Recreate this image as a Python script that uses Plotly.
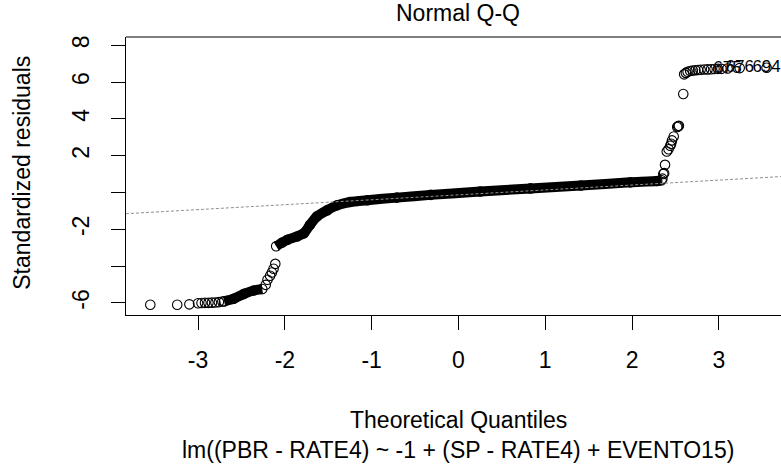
import plotly.graph_objects as go

# ---- data (theoretical quantile, standardized residual) ----
left_x = [-3.55, -3.24, -3.10, -3.00, -2.96, -2.92, -2.88, -2.84, -2.80, -2.76, -2.72]
left_y = [-6.10, -6.10, -6.08, -6.02, -6.01, -6.00, -6.00, -5.99, -5.98, -5.96, -5.93]

bandA_x = [-2.70, -2.59, -2.47, -2.36, -2.26]
bandA_y = [-5.92, -5.78, -5.51, -5.33, -5.25]

rise_x = [-2.22, -2.20, -2.17, -2.15, -2.13, -2.11]
rise_y = [-5.02, -4.74, -4.53, -4.35, -4.15, -3.88]

bandB_x = [-2.10, -2.03, -1.97, -1.86, -1.78, -1.71, -1.63, -1.51, -1.40, -1.25,
           -1.05, -0.71, -0.32, 0.25, 0.83, 1.41, 1.98, 2.29, 2.34]
bandB_y = [-2.92, -2.72, -2.57, -2.39, -2.21, -1.76, -1.30, -0.96, -0.70, -0.52,
           -0.42, -0.28, -0.13, 0.05, 0.22, 0.38, 0.55, 0.62, 0.66]

right_x = [2.35, 2.36, 2.37, 2.38, 2.40, 2.42, 2.44, 2.45, 2.46, 2.48, 2.52, 2.53,
           2.54, 2.59, 2.60, 2.62, 2.64, 2.67, 2.70, 2.73, 2.76, 2.79, 2.83, 2.87,
           2.91, 2.95, 2.99, 3.03, 3.10, 3.24, 3.55]
right_y = [0.75, 1.00, 1.05, 1.50, 2.23, 2.35, 2.54, 2.65, 2.83, 3.04, 3.56, 3.60,
           3.62, 5.35, 6.42, 6.50, 6.56, 6.60, 6.63, 6.64, 6.66, 6.67, 6.68, 6.69,
           6.70, 6.71, 6.72, 6.72, 6.74, 6.76, 6.78]

lab_x = [3.10, 3.24, 3.55]
lab_y = [6.74, 6.76, 6.78]
lab_text = ["675", "676", "694"]

# quartile points defining the Q-Q reference line
q_theo = [-0.674, 0.674]
q_samp = [-0.31, 0.05]

x_ticks = [-3, -2, -1, 0, 1, 2, 3]
y_ticks = [-6, -4, -2, 0, 2, 4, 6, 8]
y_ticktext = ["-6", "", "-2", "", "2", "4", "6", "8"]

x_range = [-3.83, 3.716]
y_range = [-6.66, 8.45]

FONT = "Liberation Sans, Arial, sans-serif"
INK = "#000000"

slope = (q_samp[1] - q_samp[0]) / (q_theo[1] - q_theo[0])
icpt = q_samp[0] - slope * q_theo[0]
ref_x = x_range
ref_y = [icpt + slope * v for v in ref_x]

fig = go.Figure()

marker = dict(symbol="circle-open", size=9.5, color=INK, line=dict(width=1.1, color=INK))

# dense bands of overlapping points
for bx, by in [(bandA_x, bandA_y), (bandB_x, bandB_y)]:
    fig.add_trace(go.Scatter(x=bx, y=by, mode="lines+markers",
                             line=dict(color=INK, width=10, shape="spline", smoothing=0.6),
                             marker=marker))

for px, py in [(left_x, left_y), (rise_x, rise_y), (right_x, right_y)]:
    fig.add_trace(go.Scatter(x=px, y=py, mode="markers", marker=marker))

# reference line (dotted grey), visible over the band as in the reference
fig.add_trace(go.Scatter(x=ref_x, y=ref_y, mode="lines",
                         line=dict(color="#8f8f8f", width=1, dash="3px,2px"),
                         hoverinfo="skip"))

fig.add_trace(go.Scatter(x=lab_x, y=lab_y, mode="text", text=lab_text,
                         textposition="middle center",
                         textfont=dict(family=FONT, size=17, color=INK)))

fig.update_layout(
    width=781, height=466,
    margin=dict(l=126, r=0, t=37, b=151),
    paper_bgcolor="white", plot_bgcolor="white",
    showlegend=False,
    font=dict(family=FONT, color=INK, size=23),
    xaxis=dict(range=x_range, tickmode="array", tickvals=x_ticks,
               ticktext=[str(v) for v in x_ticks],
               ticks="outside", ticklen=14, tickwidth=1, tickcolor=INK,
               showline=True, linecolor=INK, linewidth=1,
               showgrid=False, zeroline=False,
               tickfont=dict(family=FONT, size=23, color=INK),
               ticklabelstandoff=10),
    yaxis=dict(range=y_range, tickmode="array", tickvals=y_ticks,
               ticktext=y_ticktext, tickangle=-90,
               ticks="outside", ticklen=14, tickwidth=1, tickcolor=INK,
               showline=True, linecolor=INK, linewidth=1,
               showgrid=False, zeroline=False,
               tickfont=dict(family=FONT, size=23, color=INK),
               ticklabelstandoff=13),
    shapes=[dict(type="line", xref="paper", yref="paper", x0=0, x1=1, y0=1, y1=1,
                 line=dict(color=INK, width=1))],
    annotations=[
        dict(text="Normal Q-Q", xref="paper", yref="paper", x=0.507, y=1.085,
             xanchor="center", yanchor="middle", showarrow=False,
             font=dict(family=FONT, size=23, color=INK)),
        dict(text="Standardized residuals", xref="paper", yref="paper",
             x=-0.158, y=0.51, textangle=-90, xanchor="center", yanchor="middle",
             showarrow=False, font=dict(family=FONT, size=23, color=INK)),
        dict(text="Theoretical Quantiles", xref="paper", yref="paper",
             x=0.507, y=-0.377, xanchor="center", yanchor="middle", showarrow=False,
             font=dict(family=FONT, size=23, color=INK)),
        dict(text="lm((PBR - RATE4) ~ -1 + (SP - RATE4) + EVENTO15)", xref="paper",
             yref="paper", x=0.507, y=-0.484, xanchor="center", yanchor="middle",
             showarrow=False, font=dict(family=FONT, size=23, color=INK)),
    ],
)

fig.write_html("out.html")
